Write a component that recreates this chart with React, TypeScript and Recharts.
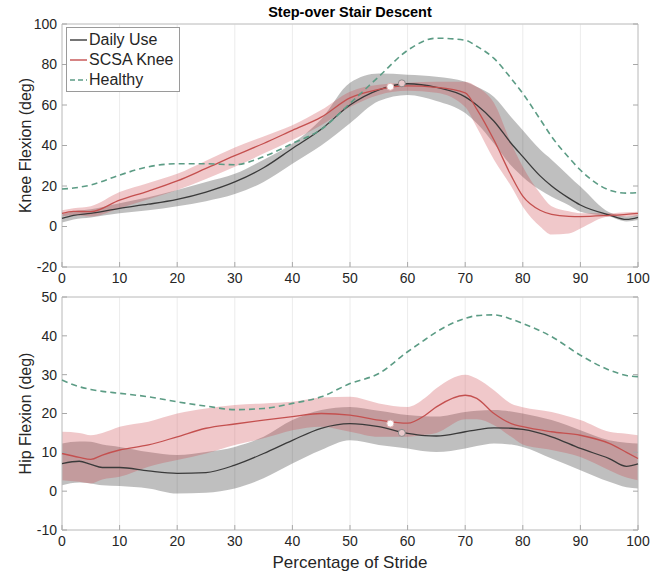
import React from 'react';
import {
  ComposedChart, Area, Line, XAxis, YAxis, CartesianGrid, ReferenceArea, ReferenceDot, Legend,
} from 'recharts';

// ---------- Knee flexion (top panel) ----------
const kneePct = [0, 2, 5, 10, 15, 20, 25, 30, 35, 40, 45, 50, 55, 60, 65, 70, 72, 75, 78, 80, 83, 85, 88, 90, 95, 98, 100];
const kneeDailyMean = [4, 5.5, 6.5, 9, 11, 13.4, 17, 22, 29, 38.5, 48, 60, 67.5, 70.5, 68.7, 64, 60, 52, 41, 34.5, 25, 20, 14, 10.6, 5.7, 3.5, 4.5];
const kneeDailyLow = [2, 3.5, 4.5, 6.5, 8, 10, 12.5, 16, 22, 31, 40, 51, 62, 65, 62, 56, 51, 41, 30, 24.5, 18, 14.7, 10.5, 7.3, 4.9, 2.5, 3.2];
const kneeDailyHigh = [6, 7.5, 8.5, 11.5, 14.5, 18, 22, 26, 33, 41, 53, 71, 75.5, 75, 74, 71.5, 69, 64, 54, 47.5, 38, 33, 25, 19.7, 7, 5, 5.7];
const kneeScsaMean = [6.5, 7.5, 7.3, 13, 17.5, 22.5, 28.7, 35, 41, 47.5, 54, 63.5, 67.7, 69.4, 68.7, 66, 58, 42.7, 25, 15, 8, 6, 5, 4.9, 5.5, 6, 6.5];
const kneeScsaLow = [5, 5.5, 4.9, 9, 13.5, 18, 23.5, 29.5, 36, 42.7, 50, 59, 65, 67, 66, 59, 49, 33, 19.7, 9.8, 0, -4, -3.5, -1, 4.9, 5, 5.2];
const kneeScsaHigh = [8, 9, 10, 17, 21.5, 26, 32.5, 39, 44.5, 50, 57.5, 66.6, 70, 71, 71.5, 71.5, 69, 61, 41, 29.5, 16.4, 10, 7.5, 6.5, 6.5, 7, 7.3];
const kneeHealthy = [18.5, 19, 20.5, 25.4, 29.5, 31, 31, 30.5, 34.5, 41, 48, 60.8, 74, 87, 93, 92, 89, 83, 73, 65.7, 53, 44.4, 34, 27.9, 18, 16.5, 16.7];
const kneeTicks = [-20, 0, 20, 40, 60, 80, 100];
const kneeMarkers = [
  { series: 'scsa', x: 57, y: 69 },
  { series: 'daily', x: 59, y: 70.7 },
];

// ---------- Hip flexion (bottom panel) ----------
const hipPct = [0, 3, 5, 7, 10, 15, 20, 25, 30, 35, 40, 45, 50, 55, 60, 63, 65, 70, 72, 75, 78, 80, 85, 90, 95, 98, 100];
const hipDailyMean = [7.1, 7.7, 6.9, 6.1, 6.1, 5.2, 4.6, 4.8, 6.7, 9.7, 13.1, 16.2, 17.4, 16.6, 14.9, 14.3, 14.2, 15.3, 15.8, 16.3, 16.2, 15.9, 14, 11, 8.4, 6.4, 7];
const hipDailyLow = [1.5, 2.2, 2, 1.5, 1.3, 0.7, -0.6, -0.4, 0.7, 3.3, 7.1, 10.6, 13.1, 11.9, 11, 10.3, 10.1, 11, 11.6, 12.3, 12, 11.4, 8.4, 5.4, 2.4, 1, 0.7];
const hipDailyHigh = [12.3, 12.8, 12.7, 12, 11.4, 10.1, 9.3, 10.1, 11.4, 14, 18.3, 20.9, 21.7, 20.7, 19.6, 19.3, 19.2, 20.4, 20.7, 20.9, 20.5, 20, 18.3, 15.7, 13.1, 12.5, 12.3];
const hipScsaMean = [9.7, 8.7, 8.2, 9.3, 10.6, 11.9, 14, 16.2, 17.3, 18.3, 19.2, 20, 19.6, 18.3, 17.5, 19.5, 21.7, 24.7, 23.9, 20, 17.4, 16.6, 15.3, 14.4, 12.3, 10, 8.4];
const hipScsaLow = [2.8, 2.4, 2, 3, 3.7, 6.3, 8, 9.7, 11.9, 13.6, 15.7, 16.6, 15.3, 14, 14, 14.5, 15, 18.5, 18.5, 17, 14, 12, 10.6, 8.8, 5.4, 3.5, 2.8];
const hipScsaHigh = [15.3, 15, 14.4, 15, 16.6, 17.9, 20, 21.3, 22.2, 22.6, 23, 24.1, 24.3, 22.6, 21.7, 24, 26.5, 30, 29, 26, 22.5, 21.6, 20.4, 18.3, 15.3, 14.8, 14.4];
const hipHealthy = [28.6, 26.9, 26.2, 25.7, 25.2, 24.3, 23, 21.9, 21, 21.3, 22.6, 24.3, 27.7, 30.3, 35.9, 39, 41, 44.5, 45.2, 45.4, 44.3, 43.2, 39.8, 35, 31.2, 29.8, 29.5];
const hipTicks = [-10, 0, 10, 20, 30, 40, 50];
const hipMarkers = [
  { series: 'scsa', x: 57, y: 17.4 },
  { series: 'daily', x: 59, y: 15 },
];

const xTicks = [0, 10, 20, 30, 40, 50, 60, 70, 80, 90, 100];
const seriesNames = { daily: 'Daily Use', scsa: 'SCSA Knee', healthy: 'Healthy' };

const FONT = '"Liberation Sans", Arial, Helvetica, sans-serif';
const TEXT = '#262626';
const TICK = '#a8a8a8';
const C_DAILY = '#3a3a3a';
const C_SCSA = '#c4504f';
const C_HEALTHY = '#5c9c85';

function buildRows(pct: number[], dm: number[], dl: number[], dh: number[], sm: number[], sl: number[], sh: number[], h: number[]) {
  return pct.map((x, i) => ({
    x,
    dRange: [dl[i], dh[i]],
    sRange: [sl[i], sh[i]],
    daily: dm[i],
    scsa: sm[i],
    healthy: h[i],
  }));
}

const kneeRows = buildRows(kneePct, kneeDailyMean, kneeDailyLow, kneeDailyHigh, kneeScsaMean, kneeScsaLow, kneeScsaHigh, kneeHealthy);
const hipRows = buildRows(hipPct, hipDailyMean, hipDailyLow, hipDailyHigh, hipScsaMean, hipScsaLow, hipScsaHigh, hipHealthy);

const LegendBox = () => {
  const items = [
    { name: seriesNames.daily, color: C_DAILY, dash: undefined },
    { name: seriesNames.scsa, color: C_SCSA, dash: undefined },
    { name: seriesNames.healthy, color: C_HEALTHY, dash: '5 3' },
  ];
  return (
    <div style={{ border: '1px solid #9a9a9a', background: '#fff', width: 110, height: 61, padding: '2px 0 0 2px', boxSizing: 'content-box', fontFamily: FONT }}>
      {items.map((it) => (
        <div key={it.name} style={{ display: 'flex', alignItems: 'center', height: 20 }}>
          <svg width={19} height={20} style={{ flex: 'none' }}>
            <line x1={1} y1={10} x2={18} y2={10} stroke={it.color} strokeWidth={1.4} strokeDasharray={it.dash} />
          </svg>
          <span style={{ fontSize: 16, color: TEXT, marginLeft: 1, whiteSpace: 'nowrap' }}>{it.name}</span>
        </div>
      ))}
    </div>
  );
};

type PanelProps = {
  rows: any[];
  domain: [number, number];
  ticks: number[];
  yLabel: string;
  markers: { series: string; x: number; y: number }[];
  height: number;
  margin: { top: number; right: number; bottom: number; left: number };
  xAxisHeight: number;
  xLabel?: string;
  legend?: boolean;
};

const Panel = ({ rows, domain, ticks, yLabel, markers, height, margin, xAxisHeight, xLabel, legend }: PanelProps) => (
  <ComposedChart width={665} height={height} data={rows} margin={margin}>
    <CartesianGrid stroke="#ececec" strokeWidth={1} />
    <XAxis
      dataKey="x"
      type="number"
      domain={[0, 100]}
      ticks={xTicks}
      interval={0}
      axisLine={false}
      tickLine={{ stroke: TICK }}
      tickSize={-5}
      tickMargin={11}
      height={xAxisHeight}
      tick={{ fill: TEXT, fontSize: 14, fontFamily: FONT }}
      label={xLabel ? { value: xLabel, position: 'insideBottom', offset: 4, style: { fill: TEXT, fontSize: 17, fontFamily: FONT } } : undefined}
    />
    <YAxis
      yAxisId="left"
      type="number"
      domain={domain}
      ticks={ticks}
      interval={0}
      allowDataOverflow
      axisLine={false}
      tickLine={{ stroke: TICK }}
      tickSize={-5}
      tickMargin={10}
      width={62}
      tick={{ fill: TEXT, fontSize: 14, fontFamily: FONT }}
      label={{ value: yLabel, angle: -90, position: 'center', dx: -6, style: { fill: TEXT, fontSize: 16, fontFamily: FONT, textAnchor: 'middle' } }}
    />
    <YAxis
      yAxisId="right"
      orientation="right"
      type="number"
      domain={domain}
      ticks={ticks}
      interval={0}
      allowDataOverflow
      axisLine={false}
      tickLine={{ stroke: TICK }}
      tickSize={-5}
      tickMargin={0}
      width={27}
      tickFormatter={() => ''}
    />
    <Area yAxisId="left" type="monotone" dataKey="dRange" stroke="none" fill="#000" fillOpacity={0.25} isAnimationActive={false} legendType="none" dot={false} activeDot={false} />
    <Area yAxisId="left" type="monotone" dataKey="sRange" stroke="none" fill="#cc4a4f" fillOpacity={0.3} isAnimationActive={false} legendType="none" dot={false} activeDot={false} />
    <Line yAxisId="left" type="monotone" dataKey="daily" name={seriesNames.daily} stroke={C_DAILY} strokeWidth={1.3} dot={false} activeDot={false} isAnimationActive={false} />
    <Line yAxisId="left" type="monotone" dataKey="scsa" name={seriesNames.scsa} stroke={C_SCSA} strokeWidth={1.3} dot={false} activeDot={false} isAnimationActive={false} />
    <Line yAxisId="left" type="monotone" dataKey="healthy" name={seriesNames.healthy} stroke={C_HEALTHY} strokeWidth={1.6} strokeDasharray="6 4" dot={false} activeDot={false} isAnimationActive={false} />
    {markers.map((m) => (
      <ReferenceDot
        key={m.series}
        yAxisId="left"
        x={m.x}
        y={m.y}
        r={3.5}
        fill={m.series === 'scsa' ? '#ffffff' : '#e9c9cb'}
        stroke={m.series === 'scsa' ? '#e2b0b0' : '#8c8c8c'}
        strokeWidth={1}
      />
    ))}
    <ReferenceArea yAxisId="left" x1={0} x2={100} y1={domain[0]} y2={domain[1]} fill="none" stroke="#c2c2c2" strokeWidth={1} />
    {legend ? (
      <Legend
        layout="vertical"
        align="center"
        verticalAlign="middle"
        content={() => <LegendBox />}
        wrapperStyle={{ position: 'absolute', left: 66, top: 27, width: 'auto', height: 'auto' }}
      />
    ) : null}
  </ComposedChart>
);

export default function App() {
  return (
    <div style={{ position: 'absolute', left: 0, top: 0, width: 665, height: 574, background: '#fff', fontFamily: FONT }}>
      <div style={{ position: 'absolute', left: 62, top: 4, width: 576, textAlign: 'center', fontWeight: 'bold', fontSize: 14.5, color: '#000', fontFamily: FONT }}>
        Step-over Stair Descent
      </div>
      <div style={{ position: 'absolute', left: 0, top: 0 }}>
        <Panel
          rows={kneeRows}
          domain={[-20, 100]}
          ticks={kneeTicks}
          yLabel="Knee Flexion (deg)"
          markers={kneeMarkers}
          height={290}
          margin={{ top: 24, right: 0, bottom: 3, left: 0 }}
          xAxisHeight={20}
          legend
        />
      </div>
      <div style={{ position: 'absolute', left: 0, top: 280 }}>
        <Panel
          rows={hipRows}
          domain={[-10, 50]}
          ticks={hipTicks}
          yLabel="Hip Flexion (deg)"
          markers={hipMarkers}
          height={294}
          margin={{ top: 17, right: 0, bottom: 2, left: 0 }}
          xAxisHeight={42}
          xLabel="Percentage of Stride"
        />
      </div>
    </div>
  );
}
